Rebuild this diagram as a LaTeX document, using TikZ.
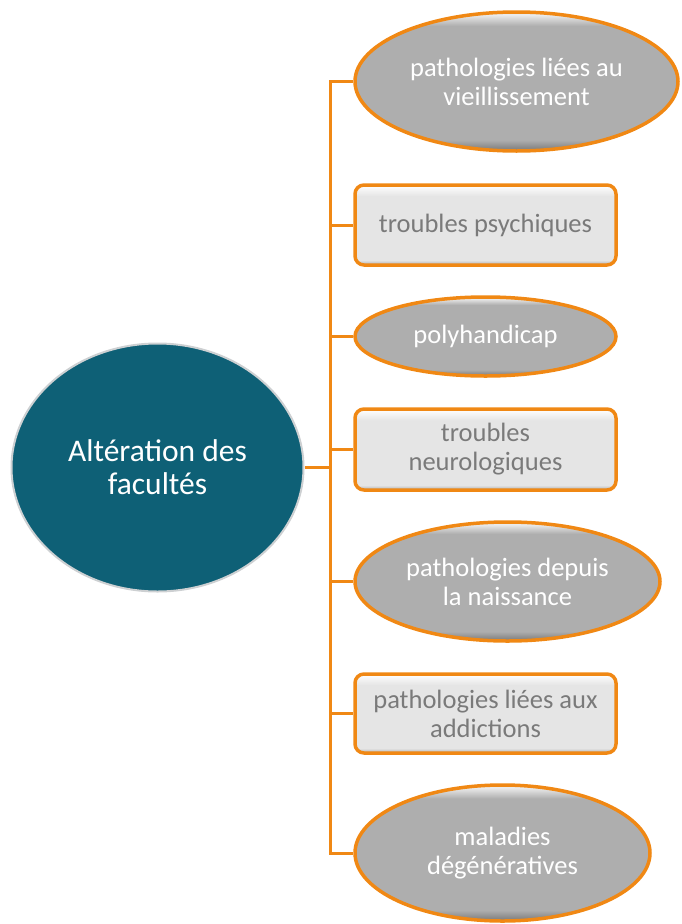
\documentclass[tikz,border=0pt]{standalone}
\usepackage{fontspec}
\setmainfont{Carlito}
\usetikzlibrary{shapes.geometric}

\definecolor{branchorange}{RGB}{240,136,20}
\definecolor{ovalgray}{RGB}{174,174,174}
\definecolor{ovaldark}{RGB}{120,120,120}
\definecolor{ovallight}{RGB}{235,235,235}
\definecolor{boxgray}{RGB}{229,229,229}
\definecolor{boxdark}{RGB}{170,170,170}
\definecolor{boxlight}{RGB}{252,252,252}
\definecolor{boxtext}{RGB}{122,122,122}
\definecolor{hubteal}{RGB}{14,96,118}
\definecolor{hubrim}{RGB}{205,208,210}

% bevel-like vertical shadings (bottom edge darker, top edge lighter)
\pgfdeclareverticalshading{ovalbevel}{100bp}{color(0bp)=(ovaldark); color(25bp)=(ovaldark); color(29bp)=(ovalgray); color(70bp)=(ovalgray); color(74bp)=(ovallight); color(100bp)=(ovallight)}
\pgfdeclareverticalshading{cardbevel}{100bp}{color(0bp)=(boxdark); color(25bp)=(boxdark); color(28bp)=(boxgray); color(68bp)=(boxgray); color(74bp)=(boxlight); color(100bp)=(boxlight)}

\tikzset{
  oval/.style={ellipse, draw=branchorange, line width=3.5pt, shading=ovalbevel,
    text=white, align=center, inner sep=0pt, font=\fontsize{26.5}{29}\selectfont},
  card/.style={rectangle, rounded corners=9pt, draw=branchorange, line width=3.5pt,
    shading=cardbevel, text=boxtext, align=center, inner sep=0pt,
    minimum width=261pt, font=\fontsize{26.5}{29}\selectfont},
  hub/.style={ellipse, draw=hubrim, line width=2pt, fill=hubteal, text=white,
    align=center, inner sep=0pt, font=\fontsize{31.5}{33}\selectfont},
  link/.style={draw=branchorange, line width=3pt}
}

\begin{document}
\begin{tikzpicture}[x=1pt,y=-1pt]
  \useasboundingbox (0,0) rectangle (682,924);

  % central topic
  \node[hub, minimum width=292pt, minimum height=248pt] (hub) at (157.5,467.5)
    {Altération des\\facultés};

  % branches
  \node[oval, minimum width=323pt, minimum height=139pt] (n1) at (516.5,81.5)
    {pathologies liées au\\vieillissement};
  \node[card, minimum height=80pt] (n2) at (485.5,225)
    {troubles psychiques};
  \node[oval, minimum width=261pt, minimum height=79pt] (n3) at (485.5,336.5)
    {polyhandicap};
  \node[card, minimum height=81pt] (n4) at (485.5,449.5)
    {troubles\\neurologiques};
  \node[oval, minimum width=305pt, minimum height=119pt] (n5) at (507.5,581.5)
    {pathologies depuis\\la naissance};
  \node[card, minimum height=79pt] (n6) at (485.5,713.5)
    {pathologies liées aux\\addictions};
  \node[oval, minimum width=295pt, minimum height=136pt] (n7) at (502.5,853)
    {maladies\\dégénératives};

  % connector tree
  \coordinate (spine) at (330,0);
  \draw[link] (n1.west) -- (n1.west -| spine) -- (n7.west -| spine) -- (n7.west);
  \draw[link] (hub.east) -- (hub.east -| spine);
  \foreach \n in {n2,n3,n4,n5,n6}
    \draw[link] (\n.west) -- (\n.west -| spine);
\end{tikzpicture}
\end{document}
